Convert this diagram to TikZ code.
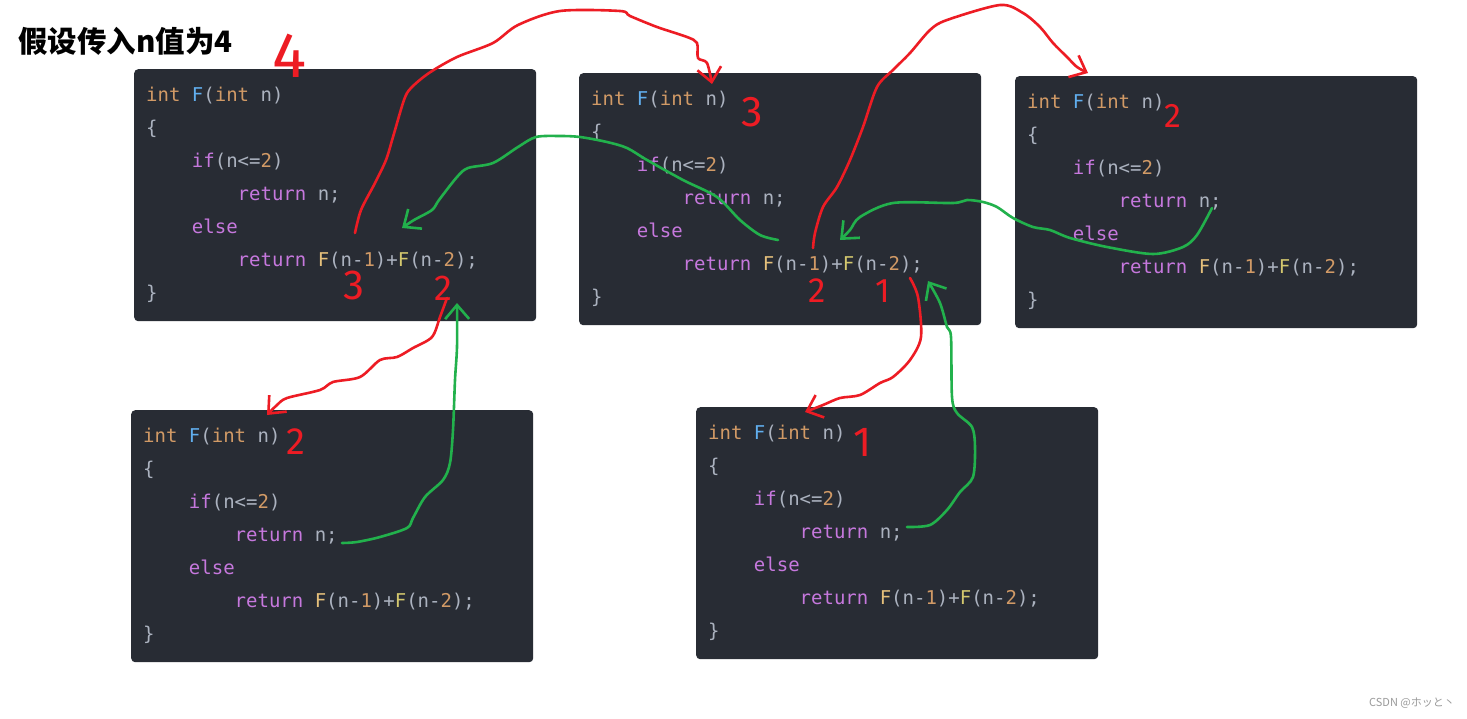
\documentclass[tikz,border=0pt]{standalone}
\usepackage{fontspec}
\setmonofont{DejaVu Sans Mono}
\newfontfamily\cjkfont{Noto Sans CJK SC}
\newfontfamily\handfont{Fira Sans}
\usetikzlibrary{arrows.meta, calc}

\definecolor{codebg}{HTML}{282C34}
\definecolor{typeorange}{HTML}{D19A66}
\definecolor{funcblue}{HTML}{61AFEF}
\definecolor{punctgray}{HTML}{ABB2BF}
\definecolor{ctrlpurple}{HTML}{C678DD}
\definecolor{callyellow}{HTML}{E5C07B}
\definecolor{callyellowb}{HTML}{D4C86E}
\definecolor{inkred}{HTML}{ED1C24}
\definecolor{inkgreen}{HTML}{22B14C}
\definecolor{markgray}{HTML}{9A9A9A}

\newcommand\ctype[1]{\textcolor{typeorange}{#1}}
\newcommand\cfunc[1]{\textcolor{funcblue}{#1}}
\newcommand\cpunc[1]{\textcolor{punctgray}{#1}}
\newcommand\cctrl[1]{\textcolor{ctrlpurple}{#1}}
\newcommand\cnum[1]{\textcolor{typeorange}{#1}}
\newcommand\ccall[1]{\textcolor{callyellow}{#1}}
\newcommand\ccallb[1]{\textcolor{callyellowb}{#1}}
\newcommand\csp{\hphantom{x}}
\newcommand\indt{\hphantom{xxxx}}

\newcommand\fibcode{%
\ctype{int}\csp\cfunc{F}\cpunc{(}\ctype{int}\csp\cpunc{n)}\\
\cpunc{\{}\\
\indt\cctrl{if}\cpunc{(n<=}\cnum{2}\cpunc{)}\\
\indt\indt\cctrl{return}\csp\cpunc{n;}\\
\indt\cctrl{else}\\
\indt\indt\cctrl{return}\csp\ccall{F}\cpunc{(n-}\cnum{1}\cpunc{)+}\ccallb{F}\cpunc{(n-}\cnum{2}\cpunc{);}\\
\cpunc{\}}}

\begin{document}
\begin{tikzpicture}[x=1pt, y=-1pt,
    codebox/.style={anchor=north west, fill=codebg, rounded corners=4pt, minimum width=402pt, minimum height=252pt, inner xsep=12pt, inner ysep=0pt, text width=378pt, align=left, font=\ttfamily\fontsize{19}{33}\selectfont},
    hand/.style={text=inkred, inner sep=0pt, font=\handfont\fontsize{#1}{#1}\selectfont},
    redline/.style={draw=inkred, line width=2.6pt, line cap=round, line join=round, -{Straight Barb[length=14pt, width=24pt]}},
    greenline/.style={draw=inkgreen, line width=2.6pt, line cap=round, line join=round, -{Straight Barb[length=14pt, width=24pt]}}
]
    % Page
    \path[use as bounding box, fill=white] (0,0) rectangle (1467,718);

    % Title
    \node[anchor=west, inner sep=0pt, font=\cjkfont\bfseries\fontsize{29.5}{33}\selectfont] (title) at (18,41) {假设传入n值为4};

    % Code boxes, one per call
    \foreach \nm/\px/\py in {f4/134/69, f3/579/73, f2r/1015/76, f2l/131/410, f1/696/407}
        \node[codebox] (\nm) at (\px,\py) {\fibcode};

    % Handwritten values of n
    \node[hand=64] (n4) at (290,56) {4};
    \node[hand=43] (n3) at (752,112) {3};
    \node[hand=34] (n2r) at (1173,116) {2};
    \node[hand=38] (n2l) at (296,442) {2};
    \node[hand=42] (n1) at (863,442) {1};

    % Handwritten arguments under the calls
    \node[hand=42] (a3) at (354,285) {3};
    \node[hand=36] (a2) at (443,288) {2};
    \node[hand=35] (b2) at (817,291) {2};
    \node[hand=34] (b1) at (883,291) {1};

    % Ends of the strokes
    \coordinate (callf3) at ($(f4.north west)+(221,164)$);
    \coordinate (intof3) at ($(f3.north west)+(133,11)$);
    \coordinate (callf2r) at ($(f3.north west)+(234,175)$);
    \coordinate (intof2r) at ($(f2r.north west)+(73,-3)$);
    \coordinate (callf2l) at ($(f4.north west)+(313,229)$);
    \coordinate (intof2l) at ($(f2l.north west)+(136,5)$);
    \coordinate (callf1) at ($(f3.north west)+(331,205)$);
    \coordinate (intof1) at ($(f1.north west)+(109,5)$);
    \coordinate (backf3) at ($(f3.north west)+(199,167)$);
    \coordinate (tof4a) at ($(f4.north west)+(268,159)$);
    \coordinate (backf2r) at ($(f2r.north west)+(197,132)$);
    \coordinate (tof3a) at ($(f3.north west)+(261,167)$);
    \coordinate (backf2l) at ($(f2l.north west)+(211,133)$);
    \coordinate (tof4b) at ($(f4.north west)+(323,234)$);
    \coordinate (backf1) at ($(f1.north west)+(211,120)$);
    \coordinate (tof3b) at ($(f3.north west)+(349,208)$);

    % Calls (red)
    \draw[redline] plot[smooth, tension=0.5] coordinates {(callf3) (361,210) (375,183) (386,160) (393,137) (404,100) (411,88) (429,73) (457,57) (493,43) (518,25) (560,11) (620,11) (630,16) (657,27) (687,37) (697,43) (698,58) (707,63) (intof3)};
    \draw[redline] plot[smooth, tension=0.5] coordinates {(callf2r) (815,233) (823,207) (837,187) (850,160) (863,127) (877,87) (893,70) (910,53) (930,30) (947,20) (1000,5) (1023,13) (1040,27) (1053,43) (1067,57) (1077,67) (intof2r)};
    \draw[redline] plot[smooth, tension=0.5] coordinates {(callf2l) (440,317) (432,337) (413,348) (397,357) (380,360) (360,377) (333,382) (320,390) (287,398) (277,405) (intof2l)};
    \draw[redline] plot[smooth, tension=0.5] coordinates {(callf1) (918,297) (921,337) (910,360) (893,377) (880,383) (860,395) (840,398) (823,405) (intof1)};

    % Returns (green)
    \draw[greenline] plot[smooth, tension=0.5] coordinates {(backf3) (760,235) (740,220) (717,197) (683,180) (647,160) (627,148) (607,142) (580,137) (560,136) (536,137) (518,147) (493,163) (468,168) (457,177) (439,200) (432,210) (414,220) (tof4a)};
    \draw[greenline] plot[smooth, tension=0.5] coordinates {(backf2r) (1197,235) (1183,247) (1153,254) (1107,247) (1070,238) (1050,230) (1033,227) (1013,218) (997,207) (983,202) (967,200) (953,203) (893,203) (860,217) (850,230) (tof3a)};
    \draw[greenline] plot[smooth, tension=0.5] coordinates {(backf2l) (357,542) (380,537) (407,528) (413,518) (425,497) (443,480) (450,463) (453,430) (455,380) (457,347) (tof4b)};
    \draw[greenline] plot[smooth, tension=0.5] coordinates {(backf1) (930,525) (947,510) (960,492) (973,477) (975,447) (972,427) (957,413) (952,397) (951,337) (947,327) (940,303) (tof3b)};

    % Watermark
    \node[anchor=east, inner sep=0pt, text=markgray, font=\cjkfont\fontsize{11}{12}\selectfont] (mark) at (1455,703) {CSDN @ホッと丶};
\end{tikzpicture}
\end{document}
